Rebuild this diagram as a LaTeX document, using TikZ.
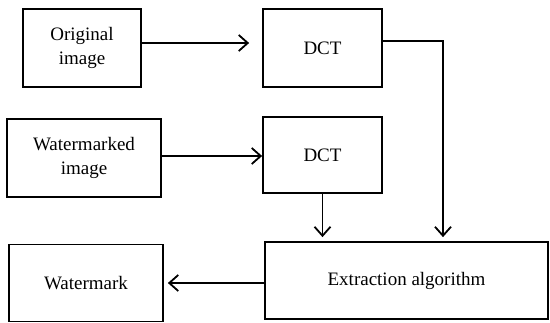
\documentclass[tikz,border=0pt]{standalone}
\usepackage{fontspec}
\setmainfont{Liberation Serif}
\usetikzlibrary{arrows.meta}
\begin{document}
\begin{tikzpicture}[x=1pt,y=-1pt,
  blk/.style={draw, line width=1.8pt, rectangle, inner sep=0pt, align=center,
    font=\fontsize{19pt}{24pt}\selectfont},
  arr/.style={line width=1.8pt, -{Straight Barb[length=9pt,width=16pt,line width=1.8pt]}}]
\useasboundingbox (0,0) rectangle (550,322);
\node[blk, minimum width=118pt, minimum height=78pt] (orig) at (82,48) {Original\\image};
\node[blk, minimum width=119pt, minimum height=78pt] (dct1) at (322.5,48) {DCT};
\node[blk, minimum width=154pt, minimum height=78pt] (wm) at (84,158) {Watermarked\\image};
\node[blk, minimum width=119pt, minimum height=76pt] (dct2) at (322.5,155) {DCT};
\node[blk, minimum width=154pt, minimum height=77pt] (mark) at (86,283) {Watermark};
\node[blk, minimum width=283pt, minimum height=77pt] (ext) at (406.5,280.5) {Extraction algorithm};
\draw[arr, shorten >=13pt] ([yshift=5pt]orig.east) -- ([yshift=5pt]orig.east -| dct1.west);
\draw[arr, shorten >=4pt] ([yshift=7pt]dct1.east) -| ([xshift=36.5pt]ext.north);
\draw[arr] ([yshift=2pt]wm.east) -- ([yshift=2pt]wm.east -| dct2.west);
\draw[arr, shorten >=4pt] (dct2.south) -- (dct2.south |- ext.north);
\draw[arr, shorten >=4pt] (mark.east -| ext.west) -- (mark.east);
\end{tikzpicture}
\end{document}
